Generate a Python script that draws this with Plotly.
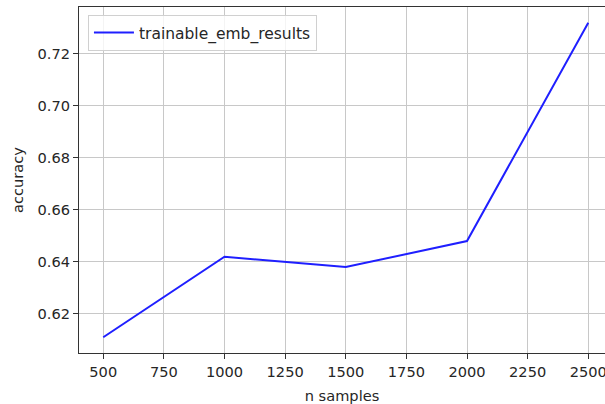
import plotly.graph_objects as go

n_samples = [500, 1000, 1500, 2000, 2500]
accuracy = [0.611, 0.642, 0.638, 0.648, 0.732]
series_name = "trainable_emb_results"
x_ticks = [500, 750, 1000, 1250, 1500, 1750, 2000, 2250, 2500]
y_ticks = [0.62, 0.64, 0.66, 0.68, 0.70, 0.72]

fig = go.Figure()
fig.add_trace(go.Scatter(x=n_samples, y=accuracy, mode="lines", name=series_name,
                         line=dict(color="#1f1fff", width=2)))

font = dict(family="DejaVu Sans", size=14.6, color="#262626")
fig.update_layout(
    width=605, height=404,
    margin=dict(l=79, r=0, t=7, b=51),
    paper_bgcolor="white", plot_bgcolor="white",
    font=font,
    showlegend=True,
    legend=dict(x=0.017, y=0.977, xanchor="left", yanchor="top", itemwidth=40,
                bordercolor="#d0d0d0", borderwidth=1, bgcolor="rgba(255,255,255,0.8)",
                font=dict(family="DejaVu Sans", size=15.5, color="#262626")),
)
fig.update_xaxes(range=[400, 2569], tickvals=x_ticks, ticktext=[str(v) for v in x_ticks],
                 automargin=False, tickfont=font, ticklabeloverflow="allow",
                 showgrid=True, gridcolor="#c8c8c8", gridwidth=1,
                 showline=True, linecolor="#333333", linewidth=1.2, mirror=True,
                 ticks="outside", ticklen=5, tickcolor="#333333",
                 title=dict(text="n samples", standoff=14, font=font), zeroline=False)
fig.update_yaxes(range=[0.60495, 0.73805], tickvals=y_ticks, ticktext=["%.2f" % v for v in y_ticks],
                 automargin=False, tickfont=font, ticklabeloverflow="allow",
                 showgrid=True, gridcolor="#c8c8c8", gridwidth=1,
                 showline=True, linecolor="#333333", linewidth=1.2,
                 ticks="outside", ticklen=5, tickcolor="#333333",
                 title=dict(text="accuracy", standoff=10, font=font), zeroline=False)

fig.write_html("out.html", config={"displayModeBar": False},
               post_script="document.body.style.margin='0';document.body.style.overflow='hidden';")
